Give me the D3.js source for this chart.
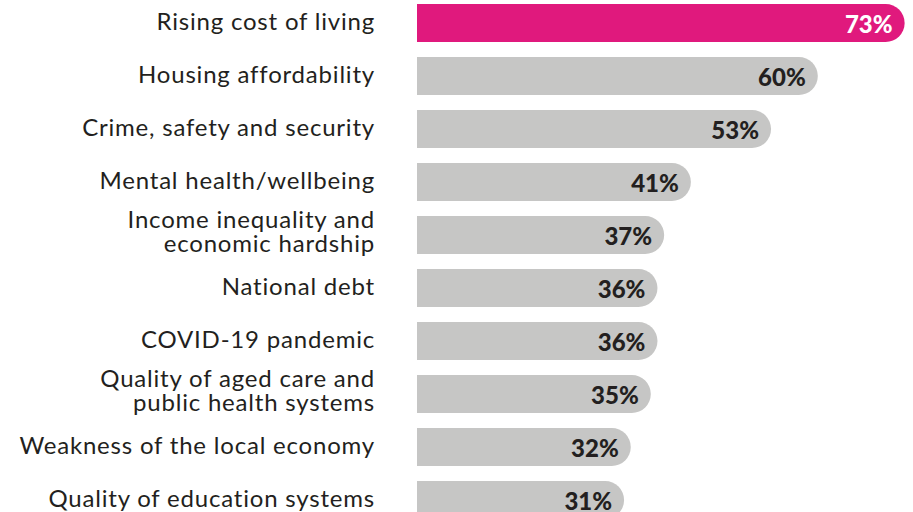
<!DOCTYPE html>
<html>
<head>
<meta charset="utf-8">
<script src="https://cdn.jsdelivr.net/npm/d3@7"></script>
<style>
  html, body { margin: 0; padding: 0; background: #ffffff; }
  svg { display: block; }
</style>
</head>
<body>
<svg id="chart" width="913" height="512"></svg>
<script>
// Issue names (line breaks where a label wraps) and share of respondents, in %
const categories = [
  ["Rising cost of living"],
  ["Housing affordability"],
  ["Crime, safety and security"],
  ["Mental health/wellbeing"],
  ["Income inequality and", "economic hardship"],
  ["National debt"],
  ["COVID-19 pandemic"],
  ["Quality of aged care and", "public health systems"],
  ["Weakness of the local economy"],
  ["Quality of education systems"]
];
const values = [73, 60, 53, 41, 37, 36, 36, 35, 32, 31];
const highlightIndex = 0;

const svg = d3.select("#chart");

const keys = categories.map(d => d.join(" "));
const y = d3.scaleBand()
  .domain(keys)
  .range([4, 519])
  .paddingInner(15 / 53)
  .paddingOuter(0);

const x = d3.scaleLinear()
  .domain([0, 100])
  .range([417, 1085]);

const h = y.bandwidth();
const r = h / 2;

// bar with square left end and fully rounded right end
function barPath(x0, x1, y0) {
  const xr = Math.max(x0, x1 - r);
  return `M${x0},${y0}H${xr}A${r},${r} 0 0 1 ${xr},${y0 + h}H${x0}Z`;
}

const rows = svg.selectAll("g.row")
  .data(values.map((v, i) => ({ v, i, key: keys[i], lines: categories[i] })))
  .join("g")
  .attr("class", "row");

rows.append("path")
  .attr("d", d => barPath(x(0), x(d.v), y(d.key)))
  .attr("fill", d => d.i === highlightIndex ? "#e0197d" : "#c6c6c5");

// value inside the bar, right aligned near its rounded end
rows.append("text")
  .attr("x", d => x(d.v) - 12)
  .attr("y", d => y(d.key) + h / 2 + 9.5)
  .attr("text-anchor", "end")
  .attr("font-family", "Lato, 'Open Sans', sans-serif")
  .attr("font-weight", 900)
  .attr("font-size", 24)
  .attr("fill", d => d.i === highlightIndex ? "#ffffff" : "#231f20")
  .text(d => d.v + "%");

// category label, right aligned to the left of the bars
const labelFont = "Lato, 'Open Sans', sans-serif";
const lineGap = 24;
rows.append("text")
  .attr("text-anchor", "end")
  .attr("font-family", labelFont)
  .attr("font-size", 24)
  .attr("letter-spacing", "0.8px")
  .attr("fill", "#231f20")
  .each(function(d) {
    const t = d3.select(this);
    const n = d.lines.length;
    const cy = y(d.key) + h / 2;
    const base = n === 1 ? cy + 7 : cy + 5;
    d.lines.forEach((line, k) => {
      t.append("tspan")
        .attr("x", 375)
        .attr("y", base + (k - (n - 1) / 2) * lineGap)
        .text(line);
    });
  });
</script>
</body>
</html>
